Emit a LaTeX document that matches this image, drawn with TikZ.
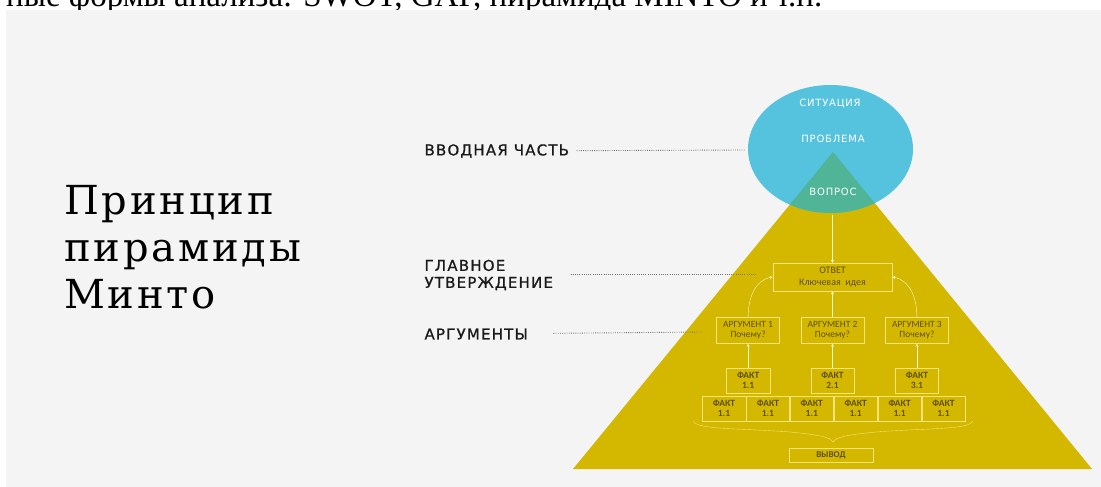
\documentclass[tikz,border=0pt]{standalone}
\usepackage{fontspec}
\usepackage{tikz}
\usetikzlibrary{positioning}
\usetikzlibrary{shapes,shapes.geometric}
\setmainfont{Liberation Serif}
\newfontfamily\titlefont[LetterSpace=7]{DejaVu Serif}
\newfontfamily\capsfont[LetterSpace=8,FakeBold=0.8]{DejaVu Sans}
\newfontfamily\thincaps[LetterSpace=8]{DejaVu Sans}
\newfontfamily\boxfont{Carlito}
\definecolor{slide}{HTML}{F4F4F4}
\definecolor{pyr}{RGB}{212,184,0}
\definecolor{sky}{RGB}{85,195,222}
\definecolor{mix}{RGB}{80,180,150}
\definecolor{boxline}{RGB}{242,228,125}
\definecolor{boxtext}{RGB}{95,80,10}
\definecolor{arrowc}{RGB}{250,245,205}
\definecolor{ink}{RGB}{25,25,25}
\tikzstyle{sidelabel} = [draw=none, fill=none, anchor=west, align=left, text=ink, font=\capsfont\fontsize{15}{17}\selectfont]
\tikzstyle{intext} = [draw=none, text=white, font=\thincaps\fontsize{10}{12}\selectfont]
\tikzstyle{mainbox} = [rectangle, draw=boxline, text=boxtext, align=center, inner sep=0pt]
\tikzstyle{argbox} = [mainbox, minimum width=63pt, minimum height=26pt, font=\boxfont\fontsize{9.5}{10}\selectfont]
\tikzstyle{factbox} = [mainbox, minimum width=43.5pt, minimum height=25pt, font=\boxfont\bfseries\fontsize{9.5}{10.5}\selectfont]
\tikzstyle{up} = [draw=arrowc, thin, ->, >=stealth]
\tikzstyle{guide} = [draw=gray!90!black, line width=0.9pt, dash pattern=on 0.9pt off 1.3pt]

\begin{document}
\begin{tikzpicture}[x=1pt, y=-1pt]
	\useasboundingbox (0,0) rectangle (1101,487);

	% cut line of text above the slide
	\node [anchor=base west, inner sep=0pt, font=\fontsize{33}{33}\selectfont] (cut) at (6,7) {ные формы анализа: SWOT, GAP, пирамида MINTO и т.п.};
	\fill [slide] (6,10) rectangle (1101,487);

	% title
	\node [anchor=west, align=left, inner sep=0pt, font=\titlefont\fontsize{40}{47}\selectfont] (title) at (64,247) {Принцип\\пирамиды\\Минто};

	% pyramid and ellipse
	\fill [pyr] (573,469) -- (833,152) -- (1092,469) -- cycle;
	\fill [sky] (830.5,149) ellipse (82.5 and 64);
	\begin{scope}
		\clip (830.5,149) ellipse (82.5 and 64);
		\fill [mix] (573,469) -- (833,152) -- (1092,469) -- cycle;
	\end{scope}
	\coordinate (ebot) at (832.5,215);

	\node [intext] (sit) at (830,104) {СИТУАЦИЯ};
	\node [intext] (prob) at (833,139) {ПРОБЛЕМА};
	\node [intext] (ques) at (833,192) {ВОПРОС};

	% place nodes
	\node [mainbox, minimum width=119pt, minimum height=28pt, font=\boxfont\fontsize{10}{12}\selectfont] (ans) at (832.5,277) {ОТВЕТ\\Ключевая\ \ идея};
	\node [argbox, below=26pt of ans] (arg2) {АРГУМЕНТ 2\\Почему?};
	\node [argbox, left=21pt of arg2] (arg1) {АРГУМЕНТ 1\\Почему?};
	\node [argbox, right=21pt of arg2] (arg3) {АРГУМЕНТ 3\\Почему?};

	\node [factbox, below=24pt of arg1] (F1) {ФАКТ\\1.1};
	\node [factbox, below=24pt of arg2] (F2) {ФАКТ\\2.1};
	\node [factbox, below=24pt of arg3] (F3) {ФАКТ\\3.1};

	\node [factbox] (b1) at (724,408.5) {ФАКТ\\1.1};
	\node [factbox, right=0pt of b1] (b2) {ФАКТ\\1.1};
	\node [factbox, right=0pt of b2] (b3) {ФАКТ\\1.1};
	\node [factbox, right=0pt of b3] (b4) {ФАКТ\\1.1};
	\node [factbox, right=0pt of b4] (b5) {ФАКТ\\1.1};
	\node [factbox, right=0pt of b5] (b6) {ФАКТ\\1.1};

	\node [mainbox, minimum width=84pt, minimum height=14pt, font=\boxfont\bfseries\fontsize{9}{10}\selectfont] (concl) at (831,455) {ВЫВОД};

	% brace
	\draw [boxline, thin] (693,421) .. controls (697,430) and (740,428) .. (790,432) .. controls (820,435) and (830,437) .. (833,442) .. controls (836,437) and (846,435) .. (876,432) .. controls (926,428) and (969,430) .. (973,421);

	% side labels
	\node [sidelabel] (intro) at (421,151) {ВВОДНАЯ ЧАСТЬ};
	\node [sidelabel] (main) at (421,275) {ГЛАВНОЕ\\УТВЕРЖДЕНИЕ};
	\node [sidelabel] (args) at (421,334) {АРГУМЕНТЫ};

	\coordinate (g1) at (745,150);
	\coordinate (g2) at (757,274);
	\coordinate (g3) at (702,332);
	\path [guide, shorten <=4pt] (intro) -- (g1);
	\path [guide, shorten <=14pt] (main.east |- g2) -- (g2);
	\path [guide, shorten <=22pt] (args) -- (g3);

	% draw edges
	\path [up] (ebot) -- (ans);
	\path [up] (arg2) -- (ans);
	\path [up] (arg1.north) to[out=90, in=190] (ans.west);
	\path [up] (arg3.north) to[out=90, in=-10] (ans.east);
	\path [up] (F1) -- (arg1);
	\path [up] (F2) -- (arg2);
	\path [up] (F3) -- (arg3);
\end{tikzpicture}
\end{document}
